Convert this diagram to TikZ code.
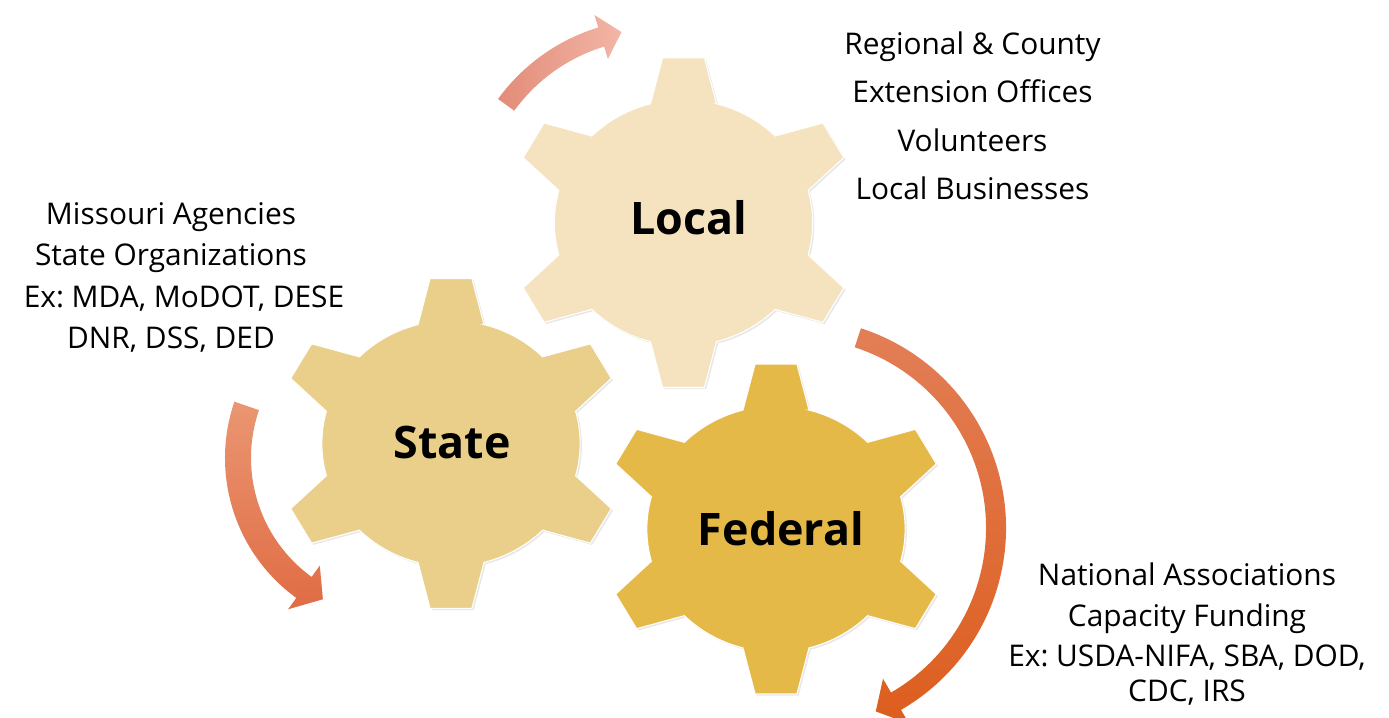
\documentclass[tikz,border=0pt]{standalone}
\usepackage{fontspec}
\setmainfont{Open Sans}
\usetikzlibrary{shadows}
\frenchspacing

\definecolor{localfill}{RGB}{245,226,191}
\definecolor{statefill}{RGB}{234,207,139}
\definecolor{fedfill}{RGB}{229,185,72}
\definecolor{pinkA}{RGB}{226,140,120}
\definecolor{pinkB}{RGB}{242,182,167}
\definecolor{coralA}{RGB}{234,150,114}
\definecolor{coralB}{RGB}{224,108,68}
\definecolor{orangeA}{RGB}{226,126,86}
\definecolor{orangeB}{RGB}{221,94,30}

% six-tooth cog: #1 centre, #2 fill
\newcommand{\cog}[2]{%
  \begin{scope}[shift={(#1)}, xscale=1.05]
    \filldraw[cog, fill=#2] (75.2:123)
      \foreach \a in {90,150,...,420} {
        -- (\a-6.9:166) -- (\a+6.9:166) -- (\a+14.8:123)
        arc[start angle=\a+14.8, end angle=\a+45.2, radius=123]
      } -- cycle;
  \end{scope}}

% bent block arrow: centre, radius, from, to, tip, half width, head half width, look
\newcommand{\bendarrow}[8]{%
  \begin{scope}[shift={(#1)}]
    \path[#8] (#3:#2+#6) arc[start angle=#3, end angle=#4, radius=#2+#6]
      -- (#4:#2+#7) -- (#5:#2) -- (#4:#2-#7) -- (#4:#2-#6)
      arc[start angle=#4, end angle=#3, radius=#2-#6] -- cycle;
  \end{scope}}

\begin{document}
\begin{tikzpicture}[x=0.02cm, y=0.02cm]
  \tikzstyle{cog} = [draw=white, line width=0.6pt,
    drop shadow={shadow xshift=1pt, shadow yshift=-1pt, opacity=0.18}]
  \tikzstyle{cogname} = [inner sep=0pt, font=\fontsize{25.5}{30}\selectfont\bfseries]
  \tikzstyle{info} = [inner sep=0pt, anchor=base, font=\fontsize{17}{20}\selectfont]

  \useasboundingbox (0,0) rectangle (1389,717);

  % centres of the cogs and of the arrows
  \coordinate (local) at (683.5,494.3);
  \coordinate (state) at (451,273.5);
  \coordinate (federal) at (776,188);
  \coordinate (topturn) at (655,504);
  \coordinate (leftturn) at (398,259);
  \coordinate (rightturn) at (796,189);

  \cog{local}{localfill}
  \cog{state}{statefill}
  \cog{federal}{fedfill}

  \node[cogname] (local-name) at (689,499.5) {Local};
  \node[cogname] (state-name) at (452,274.5) {State};
  \node[cogname] (federal-name) at (781,188.5) {Federal};

  % arrows
  \bendarrow{topturn}{184}{144}{107}{100.5}{10}{23}{left color=pinkA, right color=pinkB}
  \bendarrow{leftturn}{160}{161}{234}{242}{13}{27}{top color=coralA, bottom color=coralB}
  \bendarrow{rightturn}{200}{72}{-60}{-66.5}{10}{26}{top color=orangeA, bottom color=orangeB}

  % local partners
  \node[info] (loc-1) at (972.5,662) {Regional \& County};
  \node[info] (loc-2) at (972.5,614) {Extension Offices};
  \node[info] (loc-3) at (972.5,565.5) {Volunteers};
  \node[info] (loc-4) at (972.5,517) {Local Businesses};

  % state partners
  \node[info] (sta-1) at (171,492) {Missouri Agencies};
  \node[info] (sta-2) at (171,451) {State Organizations};
  \node[info] (sta-3) at (184,409.7) {Ex: MDA, MoDOT, DESE};
  \node[info] (sta-4) at (171,368.7) {DNR, DSS, DED};

  % federal partners
  \node[info] (fed-1) at (1187,132) {National Associations};
  \node[info] (fed-2) at (1187,90.3) {Capacity Funding};
  \node[info] (fed-3) at (1187,50.3) {Ex: USDA-NIFA, SBA, DOD,};
  \node[info] (fed-4) at (1187,15.3) {CDC, IRS};
\end{tikzpicture}
\end{document}
